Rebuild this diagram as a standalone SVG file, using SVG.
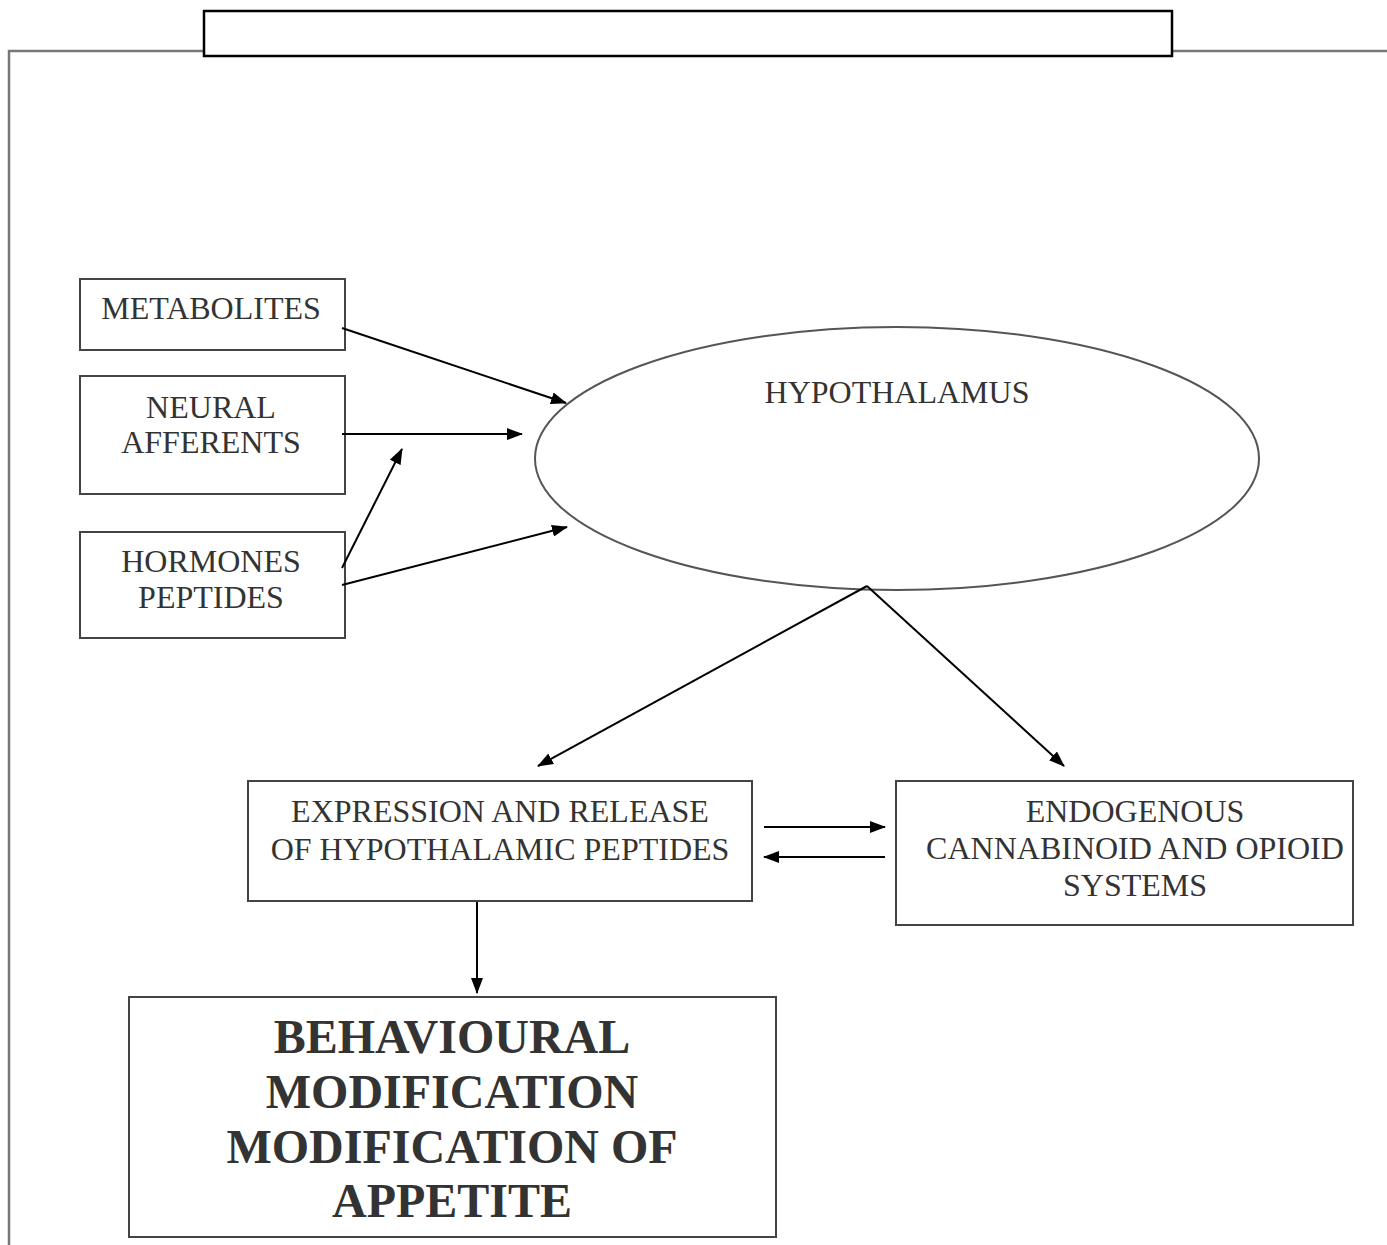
<svg xmlns="http://www.w3.org/2000/svg" width="1387" height="1245" viewBox="0 0 1387 1245">
<defs>
<style>
.box{fill:#fff;stroke:#444;stroke-width:2}
.t{font-family:"Liberation Serif","Times New Roman",serif;font-size:32px;fill:#333;text-anchor:middle}
.b{font-family:"Liberation Serif","Times New Roman",serif;font-size:48px;font-weight:bold;fill:#333;text-anchor:middle}
.c{stroke:#000;stroke-width:2;fill:none;marker-end:url(#ah)}
.frame{stroke:#777;stroke-width:2.5;fill:none}
</style>
<marker id="ah" viewBox="0 0 16 12" refX="15" refY="6" markerWidth="16" markerHeight="12" markerUnits="userSpaceOnUse" orient="auto"><path d="M0,0 L16,6 L0,12 z" fill="#000"/></marker>
</defs>
<rect width="1387" height="1245" fill="#fff"/>
<g id="frame">
<path class="frame" d="M9,1245 V51 H204 M1172,51 H1387"/>
</g>
<g id="title"><rect x="204" y="11" width="968" height="45" fill="#fff" stroke="#000" stroke-width="2.5"/></g>
<g id="metabolites"><rect class="box" x="80" y="279" width="265" height="71"/><text class="t" x="211" y="319">METABOLITES</text></g>
<g id="neural"><rect class="box" x="80" y="376" width="265" height="118"/><text class="t" x="211" y="418">NEURAL</text><text class="t" x="211" y="453">AFFERENTS</text></g>
<g id="hormones"><rect class="box" x="80" y="532" width="265" height="106"/><text class="t" x="211" y="572">HORMONES</text><text class="t" x="211" y="608">PEPTIDES</text></g>
<g id="hypothalamus"><ellipse cx="897" cy="458.5" rx="362" ry="131.5" fill="#fff" stroke="#555" stroke-width="2"/><text class="t" x="897" y="403">HYPOTHALAMUS</text></g>
<g id="expression"><rect class="box" x="248" y="781" width="504" height="120"/><text class="t" x="500" y="822">EXPRESSION AND RELEASE</text><text class="t" x="500" y="860">OF HYPOTHALAMIC PEPTIDES</text></g>
<g id="endogenous"><rect class="box" x="896" y="781" width="457" height="144"/><text class="t" x="1135" y="822">ENDOGENOUS</text><text class="t" x="1135" y="859">CANNABINOID AND OPIOID</text><text class="t" x="1135" y="896">SYSTEMS</text></g>
<g id="behavioural"><rect class="box" x="129" y="997" width="647" height="240"/><text class="b" x="452" y="1053">BEHAVIOURAL</text><text class="b" x="452" y="1108">MODIFICATION</text><text class="b" x="452" y="1163">MODIFICATION OF</text><text class="b" x="452" y="1217">APPETITE</text></g>
<g id="connectors">
<line class="c" x1="342" y1="328" x2="566" y2="403"/>
<line class="c" x1="342" y1="434" x2="522" y2="434"/>
<line class="c" x1="342" y1="568" x2="402" y2="449"/>
<line class="c" x1="342" y1="585" x2="567" y2="527"/>
<line class="c" x1="867" y1="586" x2="538" y2="766"/>
<line class="c" x1="867" y1="586" x2="1064" y2="766"/>
<line class="c" x1="764" y1="827" x2="885" y2="827"/>
<line class="c" x1="885" y1="857" x2="764" y2="857"/>
<line class="c" x1="477" y1="902" x2="477" y2="993"/>
</g>
</svg>
